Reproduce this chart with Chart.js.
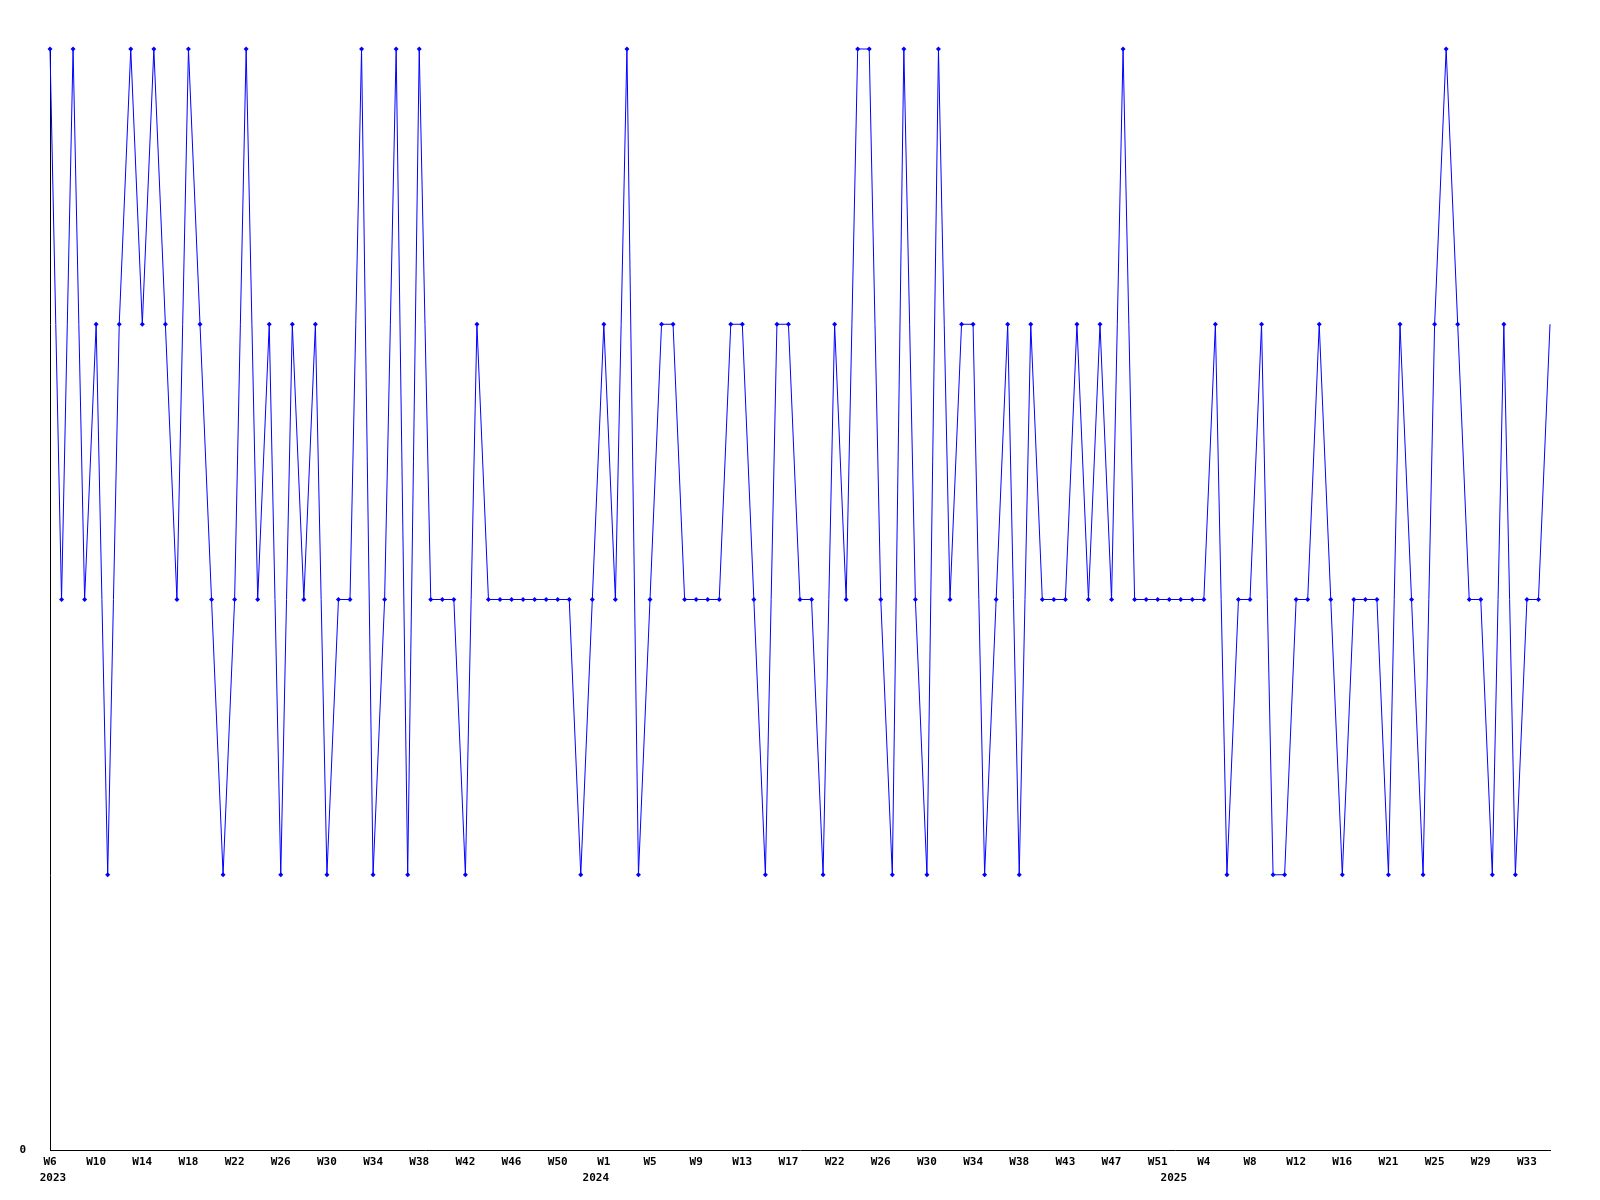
<!DOCTYPE html>
<html>
<head>
<meta charset="utf-8">
<title>Weekly values</title>
<script src="https://cdn.jsdelivr.net/npm/chart.js@4.4.1/dist/chart.umd.min.js"></script>
<style>
  html, body { margin: 0; padding: 0; background: #fff; }
  #chart { display: block; }
</style>
</head>
<body>
<canvas id="chart" width="1600" height="1200"></canvas>
<script>
// one value per week, first point is W6 2023
const weeklyValues = [
  4, 2, 4, 2, 3, 1, 3, 4, 3, 4,
  3, 2, 4, 3, 2, 1, 2, 4, 2, 3,
  1, 3, 2, 3, 1, 2, 2, 4, 1, 2,
  4, 1, 4, 2, 2, 2, 1, 3, 2, 2,
  2, 2, 2, 2, 2, 2, 1, 2, 3, 2,
  4, 1, 2, 3, 3, 2, 2, 2, 2, 3,
  3, 2, 1, 3, 3, 2, 2, 1, 3, 2,
  4, 4, 2, 1, 4, 2, 1, 4, 2, 3,
  3, 1, 2, 3, 1, 3, 2, 2, 2, 3,
  2, 3, 2, 4, 2, 2, 2, 2, 2, 2,
  2, 3, 1, 2, 2, 3, 1, 1, 2, 2,
  3, 2, 1, 2, 2, 2, 1, 3, 2, 1,
  3, 4, 3, 2, 2, 1, 3, 1, 2, 2,
  3
];

// a week label every 4th point
const weekTicks = [
  "W6", "W10", "W14", "W18", "W22", "W26", "W30", "W34", "W38", "W42", "W46", "W50",
  "W1", "W5", "W9", "W13", "W17", "W22", "W26", "W30", "W34", "W38", "W43", "W47", "W51",
  "W4", "W8", "W12", "W16", "W21", "W25", "W29", "W33"
];
const tickEvery = 4;

// year labels and the point index where each one sits
const yearTicks = ["2023", "2024", "2025"];
const yearTickAt = [0.25, 47.3, 97.4];

const yMax = 4;

// category labels: blank except every 4th week
const labels = weeklyValues.map((v, i) => (i % tickEvery === 0 ? weekTicks[i / tickEvery] || "" : ""));

const tickFont = { family: "'DejaVu Sans Mono', monospace", size: 11, weight: "bold" };

new Chart(document.getElementById("chart"), {
  type: "line",
  data: {
    labels: labels,
    datasets: [{
      data: weeklyValues,
      borderColor: "#0000ff",
      backgroundColor: "#0000ff",
      borderWidth: 1,
      tension: 0,
      pointStyle: "rectRot",
      pointRadius: (ctx) => (ctx.dataIndex === weeklyValues.length - 1 ? 0 : 2.5),
      pointBorderWidth: 0,
      fill: false,
      clip: false
    }]
  },
  options: {
    responsive: false,
    animation: false,
    layout: { padding: { top: 49, right: 50, left: 0, bottom: 0 } },
    plugins: { legend: { display: false }, tooltip: { enabled: false } },
    scales: {
      x: {
        type: "category",
        position: "bottom",
        weight: 0,
        offset: false,
        grid: { display: false, drawTicks: false },
        border: { display: true, color: "#000", width: 1 },
        ticks: { autoSkip: false, maxRotation: 0, minRotation: 0, padding: 6, color: "#000", font: tickFont },
        afterFit: (scale) => { scale.height = 22; }
      },
      years: {
        type: "linear",
        position: "bottom",
        weight: 1,
        min: 0,
        max: weeklyValues.length - 1,
        grid: { display: false, drawTicks: false },
        border: { display: false },
        ticks: {
          autoSkip: false, maxRotation: 0, minRotation: 0, padding: 0, color: "#000", font: tickFont,
          callback: (v, i) => yearTicks[i]
        },
        afterBuildTicks: (scale) => { scale.ticks = yearTickAt.map((v) => ({ value: v })); },
        afterFit: (scale) => { scale.height = 28; }
      },
      y: {
        min: 0,
        max: yMax,
        grid: { display: false, drawTicks: false },
        border: { display: true, color: "#000", width: 1 },
        ticks: { padding: 24, color: "#000", font: tickFont },
        afterBuildTicks: (scale) => { scale.ticks = [{ value: 0 }]; },
        afterFit: (scale) => { scale.width = 50; }
      }
    }
  }
});
</script>
</body>
</html>
